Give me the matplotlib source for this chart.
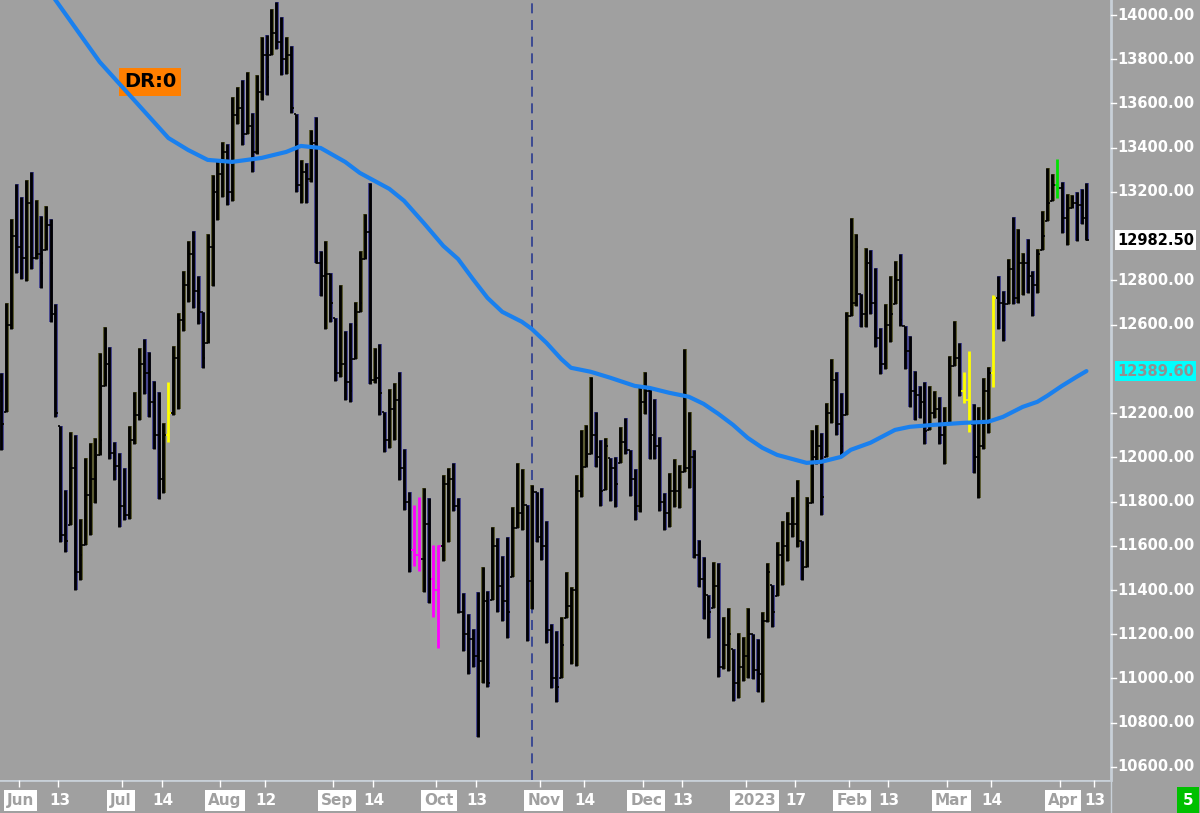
import numpy as np
import pandas as pd
import matplotlib
matplotlib.use("Agg")
import matplotlib.pyplot as plt

# ---------------- data ----------------
highs = [12382,12698,13078,13236,13177,13254,13291,13164,13092,13137,13078,12694,12142,11853,12115,12102,11722,11998,12066,12088,12472,12590,12500,12070,12020,11953,12142,12296,12495,12536,12477,12346,12296,12156,12341,12504,12653,12843,12979,13024,12820,12658,13010,13277,13340,
 13426,13417,13630,13675,13706,13743,13557,13729,13901,13910,14027,14059,13991,13901,13860,13553,13345,13331,13480,13539,12933,12979,12834,12631,12780,12572,12608,12703,12933,13101,13241,12495,12513,12206,12310,12337,12387,12038,11844,11785,11822,
 11862,11817,11605,11605,11921,11953,11975,11817,11388,11293,11225,11392,11505,11397,11686,11636,11555,11641,11776,11975,11948,11785,11876,11844,11862,11713,11248,11216,11279,11483,11415,11921,12124,12147,12364,12206,12079,12088,11998,12002,12138,
 12179,12034,11948,12319,12387,12314,12265,12093,11840,11930,11993,11966,12490,12206,12034,11627,11550,11379,11528,11523,11279,11320,11135,11207,11189,11320,11202,11180,11302,11523,11424,11618,11713,11754,11822,11898,
 11623,11822,12124,12147,12111,12247,12445,12387,12292,12658,13083,13010,12739,12947,12938,12857,12585,12694,12820,12888,12920,12595,12549,12391,12323,12341,12323,12301,12274,12228,12459,12617,12518,12387,12482,12242,12228,12360,12409,
 12735,12820,12753,12897,13087,13033,12924,12988,12843,12943,13114,13309,13282,13349,13245,13191,13187,13200,13214,13241]
lows = [12034,12206,12581,12834,12807,12798,12852,12897,12766,12938,12613,12183,11618,11573,11695,11401,11446,11605,11650,11794,12011,12323,11993,11898,11686,11718,11722,12061,12170,12287,12183,12038,11813,11840,12070,12192,12219,12572,12703,12676,12604,12405,12518,12775,13074,
 13178,13141,13160,13508,13413,13462,13291,13372,13616,13639,13819,13847,13729,13734,13557,13200,13150,13150,13245,12879,12730,12581,12613,12346,12364,12260,12251,12445,12658,12897,12332,12337,12192,12025,12043,12079,11898,11763,11483,11510,11487,
 11392,11342,11279,11139,11532,11618,11758,11297,11126,11022,11053,10737,10981,10963,11356,11302,11261,11184,11460,11681,11672,11171,11315,11618,11537,11162,10958,10895,11004,11275,11067,11058,11822,11957,12016,11957,11781,11853,11804,11776,11975,
 12016,11826,11718,11754,12197,11993,11993,11758,11672,11686,11776,11772,11935,11862,11546,11415,11270,11184,11320,11008,11044,11035,10899,10913,10990,11004,10999,10940,10895,11257,11234,11374,11424,11532,11641,11596,
 11446,11505,11794,11971,11740,12002,12156,12102,12011,12192,12640,12685,12590,12590,12649,12500,12377,12400,12522,12694,12595,12400,12228,12170,12179,12061,12124,12179,12061,11971,12156,12414,12278,12246,12115,11930,11817,12038,12111,
 12319,12581,12527,12694,12694,12698,12735,12744,12640,12744,12938,13069,13159,13173,13015,12961,13128,12979,13055,12982.5]
opens = [12300,12150,12600,13000,12950,12900,13150,12900,12920,12880,13050,12650,12200,11650,11620,11950,11480,11560,11830,11900,12000,12080,12420,12020,11960,11780,11740,12080,12190,12420,12380,12250,12100,11900,12100,12200,12450,12620,12780,12920,12750,12700,12450,12950,13200,
 13280,13380,13200,13550,13580,13450,13500,13380,13650,13820,13720,13920,13880,13800,13820,13580,13230,13290,13260,13420,12880,12820,12830,12700,12380,12420,12340,12300,12600,12700,13020,12350,12360,12290,12080,12220,12260,11950,11800,11580,11560,
 11540,11700,11450,11400,11600,11880,11900,11780,11300,11200,11180,11100,11080,11350,10980,11600,11420,11350,11300,11680,11750,11800,11440,11850,11640,11600,11220,11000,10960,11150,11330,11400,11850,11900,12000,12100,12000,11850,12050,11950,11880,
 12070,12040,11900,11780,12250,12300,12100,12050,11800,11750,11850,11850,11900,11950,12000,11560,11450,11380,11300,11420,11050,11150,11200,10980,11050,11100,11200,11040,11020,11260,11480,11300,11560,11600,11700,11700,
 11850,11500,11780,12000,12050,11820,12200,12350,12150,12050,12620,12700,12950,12650,12880,12700,12540,12420,12600,12650,12800,12620,12480,12300,12280,12250,12120,12200,12220,12100,12150,12400,12450,12300,12260,12150,12000,12050,12300,
 12380,12720,12700,12680,12850,12720,12880,12880,12820,12780,12920,13000,13150,13230,13220,13080,13120,13150,13140,13080]
closes = [12150,12600,13000,12950,12900,13150,12900,12920,12880,13050,12650,12200,11650,11620,11950,11480,11560,11830,11900,12000,12080,12420,12020,11960,11780,11740,12080,12190,12420,12380,12250,12100,11900,12100,12200,12450,12620,12780,12920,12750,12700,12450,12950,13200,13280,
 13380,13200,13550,13580,13450,13500,13380,13650,13820,13720,13920,13880,13800,13820,13580,13230,13290,13260,13420,12880,12820,12830,12700,12380,12420,12340,12300,12600,12700,13020,12350,12360,12290,12080,12220,12260,11950,11800,11580,11560,11540,
 11700,11450,11400,11600,11880,11900,11780,11300,11200,11180,11100,11080,11350,10980,11600,11420,11350,11300,11680,11750,11800,11440,11850,11640,11600,11220,11000,10960,11150,11330,11400,11850,11900,12000,12100,12000,11850,12050,11950,11880,12070,
 12040,11900,11780,12250,12300,12100,12050,11800,11750,11850,11850,11900,11950,12000,11560,11450,11380,11300,11420,11050,11150,11200,10980,11050,11100,11200,11040,11020,11260,11480,11300,11560,11600,11700,11700,11850,
 11500,11780,12000,12050,11820,12200,12350,12150,12050,12620,12700,12950,12650,12880,12700,12540,12420,12600,12650,12800,12620,12480,12300,12280,12250,12120,12200,12220,12100,12150,12400,12450,12300,12260,12150,12000,12050,12300,12380,
 12720,12700,12680,12850,12720,12880,12880,12820,12780,12920,13000,13150,13230,13220,13080,13120,13150,13140,13080,12982.5]

ma_idx = [0,11,20,27,34,38,42,47,53,58,61,65,70,73,79,82,86,90,93,96,99,102,106,108,111,114,116,120,124,129,132,136,140,143,146,149,152,155,158,161,164,167,171,173,177,182,185,190,196,201,204,208,211,213,216,219,221]
ma_val = [14430,14068,13788,13616,13444,13390,13345,13336,13354,13381,13408,13399,13336,13286,13214,13160,13060,12956,12897,12807,12721,12658,12613,12581,12518,12445,12405,12387,12360,12323,12314,12292,12274,12242,12197,12147,12088,12043,12011,11993,11975,11980,12002,12034,12066,12124,12138,12147,12156,12161,12183,12228,12251,12278,12323,12364,12390]

yellow_bars = [34, 196, 197, 202]
magenta_bars = [84, 85, 88, 89]
green_bars = [215]

holidays = ["2022-05-30", "2022-06-20", "2022-07-04", "2022-09-05", "2022-11-24",
            "2022-12-26", "2023-01-02", "2023-04-07"]
month_labels = [("2022-06-01", "Jun"), ("2022-07-01", "Jul"), ("2022-08-01", "Aug"),
                ("2022-09-01", "Sep"), ("2022-10-03", "Oct"), ("2022-11-01", "Nov"),
                ("2022-12-01", "Dec"), ("2023-01-03", "2023"), ("2023-02-01", "Feb"),
                ("2023-03-01", "Mar"), ("2023-04-03", "Apr")]
day_labels = ["2022-06-13", "2022-07-14", "2022-08-12", "2022-09-14", "2022-10-13",
              "2022-11-14", "2022-12-13", "2023-01-17", "2023-02-13", "2023-03-14", "2023-04-13"]
ytick_vals = [v for v in range(10600, 14001, 200) if v not in (13000, 12400)]
last_price = 12982.50
ma_last = 12389.60
vline_date = "2022-11-01"

# ---------------- dates ----------------
n = len(closes)
bd = pd.bdate_range("2022-05-01", "2023-04-13")
bd = bd[~bd.isin(pd.to_datetime(holidays))]
dates = bd[-n:]
pos = {d.strftime("%Y-%m-%d"): i for i, d in enumerate(dates)}

# ---------------- figure ----------------
BG = "#a0a0a0"
fig = plt.figure(figsize=(12, 8.13), dpi=100, facecolor=BG)
ax = fig.add_axes([0, 33/813, 1110/1200, 780/813])
ax.set_facecolor(BG)
for s in ax.spines.values():
    s.set_visible(False)
ax.set_xlim(-0.3, 225.8)
ax.set_ylim(10541, 14068)
ax.set_xticks([]); ax.set_yticks([])

x = np.arange(n)
H = np.array(highs); L = np.array(lows)
O = np.clip(opens, L, H); C = np.clip(closes, L, H)

for i in range(n):
    if i in yellow_bars:
        col, edge = "#ffff00", None
    elif i in magenta_bars:
        col, edge = "#ff00ff", None
    elif i in green_bars:
        col, edge = "#00e000", None
    else:
        col = "black"
        edge = "#4a4a18" if C[i] >= O[i] else "#32328a"
    if edge:
        ax.vlines(x[i] + 0.15, L[i], H[i], color=edge, lw=2.6, zorder=2)
    ax.vlines(x[i], L[i], H[i], color=col, lw=2.0, zorder=3)
    ax.hlines(O[i], x[i] - 0.5, x[i], color=col, lw=1.2, zorder=3)
    ax.hlines(C[i], x[i], x[i] + 0.5, color=col, lw=1.2, zorder=3)

ax.plot(ma_idx, ma_val, color="#1a80ee", lw=3, zorder=4, solid_capstyle="round")
ax.axvline(pos[vline_date], color="#2a3a90", lw=1.2, ls=(0, (6, 4)), zorder=1)

ax.text(0.112, 0.895, "DR:0", transform=ax.transAxes, fontsize=14, fontweight="bold",
        color="black", va="center", ha="left",
        bbox=dict(boxstyle="square,pad=0.25", fc="#ff7f00", ec="none"))

# right price axis
fig.add_artist(plt.Line2D([1111/1200]*2, [33/813, 1], color="#c8d0d8", lw=2))
fig.add_artist(plt.Line2D([1111/1200, 1111/1200], [0, 33/813], color="#c8d0d8", lw=1))
def fy(v):
    return (33 + (v - 10541) / (14068 - 10541) * 780) / 813
for v in ytick_vals:
    yy = fy(v)
    fig.add_artist(plt.Line2D([1111/1200, 1116/1200], [yy, yy], color="white", lw=1))
    fig.text(1117/1200, yy, f"{v:.2f}", color="white", fontsize=10.5, fontweight="bold",
             va="center", ha="left")
fig.text(1117/1200, fy(last_price), f"{last_price:.2f}", color="black", fontsize=10.5,
         fontweight="bold", va="center", ha="left",
         bbox=dict(boxstyle="square,pad=0.15", fc="white", ec="none"))
fig.text(1117/1200, fy(ma_last), f"{ma_last:.2f}", color="#909090", fontsize=10.5,
         fontweight="bold", va="center", ha="left",
         bbox=dict(boxstyle="square,pad=0.15", fc="#00ffff", ec="none"))

# bottom date axis
bx = fig.add_axes([0, 0, 1110/1200, 33/813])
bx.set_facecolor(BG)
bx.set_xlim(ax.get_xlim()); bx.set_ylim(0, 1)
bx.set_xticks([]); bx.set_yticks([])
for s in bx.spines.values():
    s.set_visible(False)
bx.axhline(1, color="#c8d0d8", lw=2)
for d, lab in month_labels:
    i = pos[d]
    bx.vlines(i + 1.6, 0.8, 1, color="white", lw=1)
    bx.text(i - 0.9, 0.38, lab, color=BG, fontsize=11, fontweight="bold", ha="left", va="center",
            bbox=dict(boxstyle="square,pad=0.2", fc="white", ec="none"))
for d in day_labels:
    i = pos[d]
    bx.vlines(i + 1.6, 0.8, 1, color="white", lw=1)
    bx.text(i + 1.8, 0.38, d[-2:], color="white", fontsize=11, fontweight="bold",
            ha="center", va="center")
fig.text(1188/1200, 13/813, "5", color="white", fontsize=11, fontweight="bold", ha="center",
         va="center", bbox=dict(boxstyle="square,pad=0.35", fc="#00c000", ec="none"))

fig.savefig("out.png", dpi=100, facecolor=BG)
